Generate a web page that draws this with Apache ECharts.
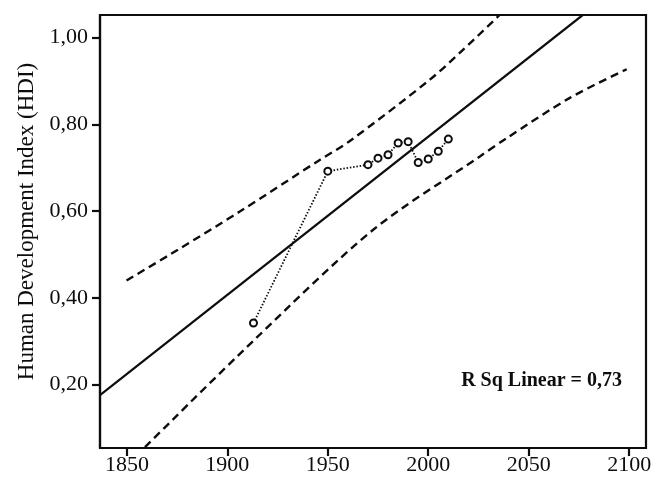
<!DOCTYPE html>
<html>
<head>
<meta charset="utf-8">
<script src="https://cdn.jsdelivr.net/npm/echarts@6/dist/echarts.min.js"></script>
<style>
  html, body { margin: 0; padding: 0; background: #fff; }
  #chart { width: 658px; height: 490px; }
</style>
</head>
<body>
<div id="chart"></div>
<script>
// observed HDI values
const years = [1913, 1950, 1970, 1975, 1980, 1985, 1990, 1995, 2000, 2005, 2010]
const hdi = [0.342, 0.692, 0.707, 0.722, 0.730, 0.757, 0.760, 0.712, 0.720, 0.738, 0.766]

// linear fit and prediction band
const fitLine = [[1836.6, 0.176], [2078, 1.056]]
const upperBand = [[1849.8, 0.440], [1875.4, 0.511], [1906.2, 0.599], [1946, 0.718],
  [1960.8, 0.761], [2000.8, 0.903], [2017.4, 0.972], [2035.5, 1.052]]
const lowerBand = [[1859, 0.056], [1913.6, 0.304], [1972.6, 0.557], [2025.7, 0.726],
  [2039, 0.768], [2070.5, 0.861], [2098.8, 0.927]]

const xTicks = [1850, 1900, 1950, 2000, 2050, 2100]
const yTicks = [0.2, 0.4, 0.6, 0.8, 1.0]
const rSqLabel = 'R Sq Linear = 0,73'

const ink = '#0d0d0d'
const font = '"Liberation Serif", "DejaVu Serif", serif'

const chart = echarts.init(document.getElementById('chart'), null, { renderer: 'canvas' })

const dashed = { color: ink, width: 2.4, type: [8, 5] }

chart.setOption({
  animation: false,
  textStyle: { fontFamily: font, color: ink },
  grid: {
    left: 100, right: 12, top: 15, bottom: 42,
    show: true, borderColor: ink, borderWidth: 2.2,
  },
  xAxis: {
    type: 'value',
    min: 1836.6,
    max: 2108.4,
    axisLine: { lineStyle: { color: ink, width: 2.2 } },
    axisTick: { customValues: xTicks, length: 8, lineStyle: { color: ink, width: 2.2 } },
    axisLabel: {
      customValues: xTicks, color: ink, fontSize: 22, fontFamily: font, margin: 6,
      formatter: v => String(v),
    },
    splitLine: { show: false },
  },
  yAxis: {
    type: 'value',
    min: 0.054,
    max: 1.052,
    name: 'Human Development Index (HDI)',
    nameLocation: 'middle',
    nameGap: 60,
    nameTextStyle: { fontSize: 23, fontFamily: font, color: ink, padding: [0, 0, 0, 20] },
    axisLine: { lineStyle: { color: ink, width: 2.2 } },
    axisTick: { customValues: yTicks, length: 8, lineStyle: { color: ink, width: 2.2 } },
    axisLabel: {
      customValues: yTicks, color: ink, fontSize: 22, fontFamily: font, margin: 12,
      formatter: v => v.toFixed(2).replace('.', ','),
    },
    splitLine: { show: false },
  },
  graphic: [{
    type: 'text',
    right: 36,
    top: 371,
    style: { text: rSqLabel, font: 'bold 20px ' + font, fill: ink },
  }],
  series: [
    {
      name: 'Fit', type: 'line', data: fitLine, symbol: 'none', clip: true,
      lineStyle: { color: ink, width: 2.2 },
    },
    {
      name: 'Upper', type: 'line', data: upperBand, symbol: 'none', smooth: 0.3, clip: true,
      lineStyle: dashed,
    },
    {
      name: 'Lower', type: 'line', data: lowerBand, symbol: 'none', smooth: 0.3, clip: true,
      lineStyle: dashed,
    },
    {
      name: 'HDI', type: 'line',
      data: years.map((y, i) => [y, hdi[i]]),
      symbol: 'circle', symbolSize: 7,
      itemStyle: { color: '#fff', borderColor: ink, borderWidth: 2 },
      lineStyle: { color: ink, width: 1.8, type: [1.5, 1.8] },
      z: 5,
    },
  ],
})
</script>
</body>
</html>
